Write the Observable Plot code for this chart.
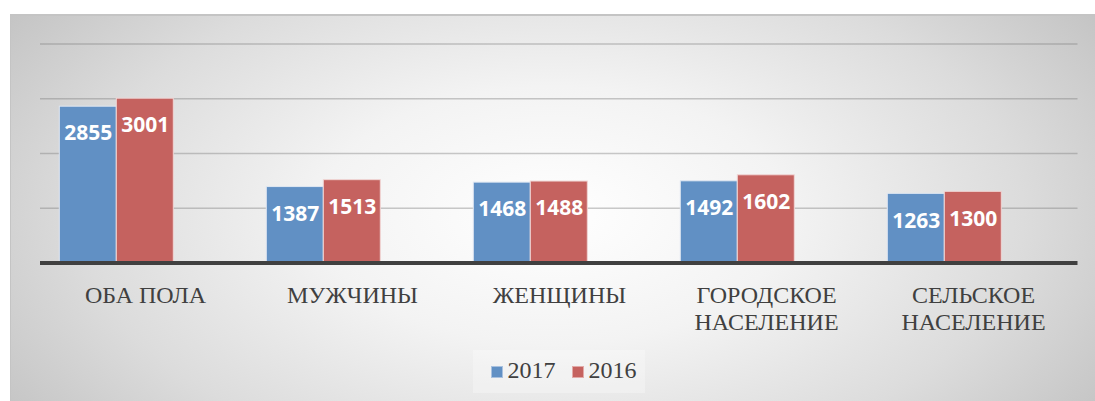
<!DOCTYPE html>
<html>
<head>
<meta charset="utf-8">
<script src="https://cdn.jsdelivr.net/npm/d3@7"></script>
<script src="https://cdn.jsdelivr.net/npm/@observablehq/plot@0.6"></script>
<style>
  html, body { margin: 0; padding: 0; background: #ffffff; width: 1095px; height: 401px; overflow: hidden; }
  #box {
    position: absolute; left: 10px; top: 14px; width: 1085px; height: 387px;
    background: radial-gradient(ellipse 62% 95% at 50% 52%, #ffffff 0%, #f3f3f3 35%, #dcdcdc 70%, #c2c2c2 100%);
    box-shadow: inset 1px 2px 0 #c4c4c4;
  }
  #chart { position: absolute; left: 0; top: 0; }
  #legend {
    position: absolute; left: 463px; top: 336px; width: 172px; height: 43px;
    background: rgba(255,255,255,0.28);
    box-sizing: border-box; white-space: nowrap;
    font-family: "Liberation Serif", "DejaVu Serif", serif; font-size: 24px; color: #404040;
  }
  #legend .sw { position: absolute; top: 15.7px; width: 12px; height: 12px; box-sizing: border-box; }
  #legend .lab { position: absolute; top: 8px; line-height: 1; }
</style>
</head>
<body>
<div id="box">
  <div id="chart"></div>
  <div id="legend"></div>
</div>
<script>
const categories = ["ОБА ПОЛА", "МУЖЧИНЫ", "ЖЕНЩИНЫ", "ГОРОДСКОЕ\nНАСЕЛЕНИЕ", "СЕЛЬСКОЕ\nНАСЕЛЕНИЕ"];
const values2017 = [2855, 1387, 1468, 1492, 1263];
const values2016 = [3001, 1513, 1488, 1602, 1300];
const seriesNames = ["2017", "2016"];
const seriesColors = ["#6190c4", "#c5625f"];
const gridTicks = [1000, 2000, 3000, 4000];

const data2017 = categories.map((c, i) => ({cat: c, value: values2017[i]}));
const data2016 = categories.map((c, i) => ({cat: c, value: values2016[i]}));

const shift = -28.7; // bar groups sit left of category centre, as in the source chart
const W = 1085, H = 330;
const chart = Plot.plot({
  width: W,
  height: H,
  marginLeft: 30,
  marginRight: 17.5,
  marginTop: 29.5,
  marginBottom: 81.5,
  style: {background: "transparent", overflow: "visible"},
  x: {type: "band", domain: categories, paddingInner: 0.45, paddingOuter: 0.225, axis: null},
  y: {domain: [0, 4000], axis: null},
  marks: [
    Plot.ruleY(gridTicks, {stroke: "#7a7a7a", strokeOpacity: 0.4, strokeWidth: 1.5}),
    Plot.barY(data2017, {x: "cat", y: "value", dx: shift, fill: seriesColors[0], stroke: "#dfe7f2", strokeWidth: 1, insetRight: 57}),
    Plot.barY(data2016, {x: "cat", y: "value", dx: shift, fill: seriesColors[1], stroke: "#f0d6d5", strokeWidth: 1, insetLeft: 57}),
    Plot.ruleY([0], {stroke: "#404040", strokeWidth: 4}),
    Plot.text(data2017, {x: "cat", y: "value", text: d => String(d.value), dx: shift - 28.5, dy: 27,
      fill: "white", fontWeight: "bold", fontSize: 21, fontFamily: "Open Sans", lineAnchor: "middle"}),
    Plot.text(data2016, {x: "cat", y: "value", text: d => String(d.value), dx: shift + 28.5, dy: 27,
      fill: "white", fontWeight: "bold", fontSize: 21, fontFamily: "Open Sans", lineAnchor: "middle"}),
    Plot.text(categories, {x: d => d, text: d => d, frameAnchor: "bottom", lineAnchor: "top",
      dy: 21.2, lineHeight: 1.11, fontSize: 24, fontFamily: "Liberation Serif", fill: "#404040"})
  ]
});
document.getElementById("chart").appendChild(chart);

const legend = document.getElementById("legend");
const swX = [18, 99], labX = [34.6, 115.6];
seriesNames.forEach((s, i) => {
  const sw = document.createElement("span");
  sw.className = "sw";
  sw.style.left = swX[i] + "px";
  sw.style.background = seriesColors[i];
  sw.style.border = "1px solid " + (i === 0 ? "#a9c1df" : "#e2aaa8");
  legend.appendChild(sw);
  const lab = document.createElement("span");
  lab.className = "lab";
  lab.style.left = labX[i] + "px";
  lab.textContent = s;
  legend.appendChild(lab);
});
</script>
</body>
</html>
